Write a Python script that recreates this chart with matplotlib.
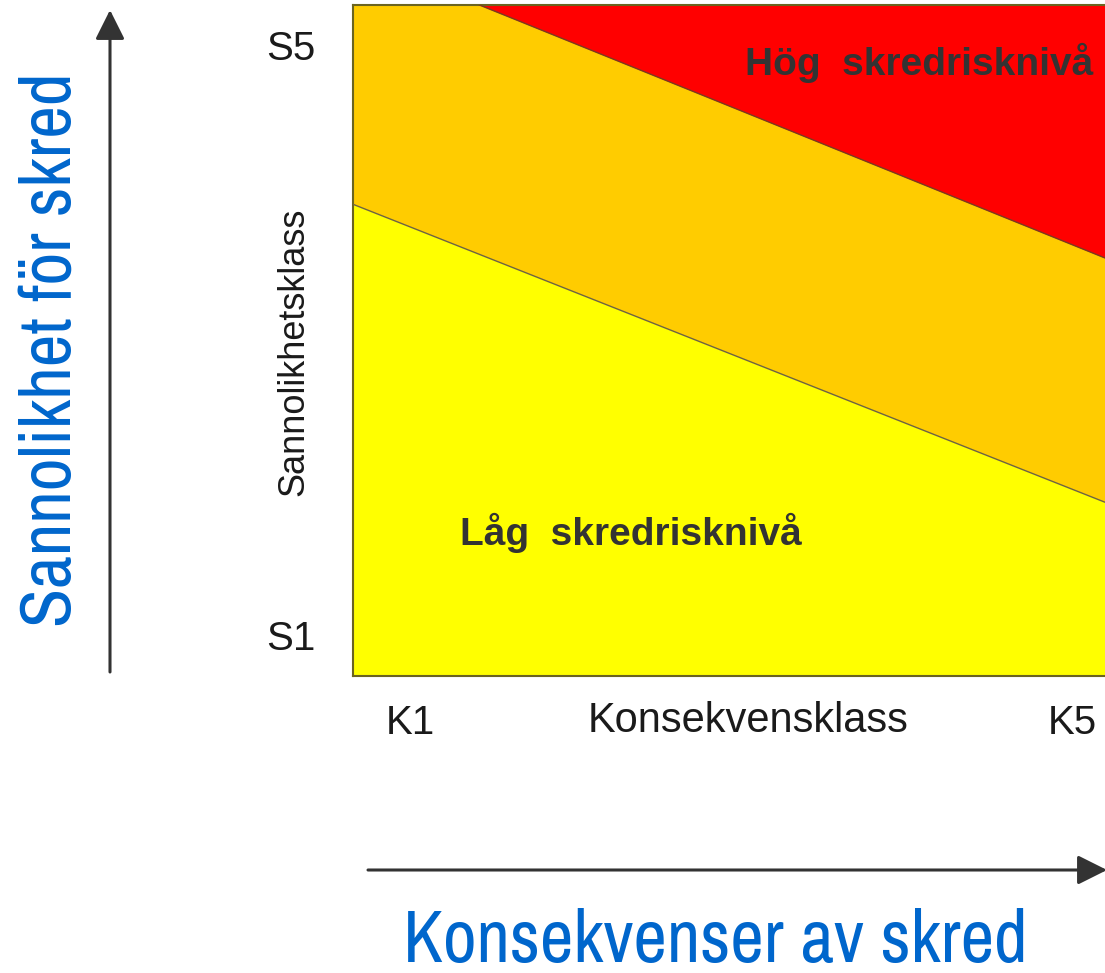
import matplotlib
matplotlib.use("Agg")
import matplotlib.pyplot as plt
import numpy as np
from matplotlib import font_manager
from matplotlib.font_manager import FontProperties
from matplotlib.textpath import TextPath

# ---- data ----
x_ticks = [1, 5]
x_labels = ["K1", "K5"]
y_ticks = [1, 5]
y_labels = ["S1", "S5"]
x_range = [0.656, 5.20]
y_range = [0.722, 5.271]
low_line_x = [0.656, 5.20]       # yellow / orange boundary
low_line_y = [3.92, 1.90]
high_line_x = [1.42, 5.20]       # orange / red boundary
high_line_y = [5.271, 3.556]
region_labels = ["Låg  skredrisknivå", "Hög  skredrisknivå"]
region_pos = [(1.302, 1.61), (3.024, 4.797)]
x_title = "Konsekvensklass"
y_title = "Sannolikhetsklass"
big_x_title = "Konsekvenser av skred"
big_y_title = "Sannolikhet för skred"

# choose a narrow sans font closest to Arial Narrow proportions
names = {f.name for f in font_manager.fontManager.ttflist}
cands = ["Liberation Sans Narrow", "Arial Narrow", "Roboto Condensed", "PT Sans Narrow",
         "Pragati Narrow", "Open Sans Condensed", "IBM Plex Sans Condensed",
         "Fira Sans Condensed", "Archivo Narrow", "Barlow Semi Condensed",
         "Encode Sans Semi Condensed", "Asap Condensed"]
target = 650 / 54.0
best, best_err = None, 1e9
for c in cands:
    if c not in names:
        continue
    try:
        fp = FontProperties(family=c, size=100)
        w = TextPath((0, 0), big_x_title, prop=fp).get_extents().width
        h = TextPath((0, 0), "K", prop=fp).get_extents().height
        err = abs(w / h - target)
        if err < best_err:
            best, best_err = c, err
    except Exception:
        pass
narrow = ([best] if best else []) + ["Liberation Sans", "DejaVu Sans"]
plt.rcParams["font.family"] = ["Liberation Sans", "DejaVu Sans"]

W, H = 1105, 973
fig = plt.figure(figsize=(W / 100, H / 100), dpi=100)
fig.patch.set_facecolor("white")

# overlay in pixel coordinates for arrows & titles
ov = fig.add_axes([0, 0, 1, 1])
ov.set_xlim(0, W)
ov.set_ylim(H, 0)
ov.axis("off")

L, R, T, B = 353, 1105, 5, 676
ax = fig.add_axes([L / W, 1 - B / H, (R - L) / W, (B - T) / H])
ax.set_xlim(*x_range)
ax.set_ylim(*y_range)

xs = np.array(x_range)
low_at = np.interp(xs, low_line_x, low_line_y)
ax.fill_between(xs, y_range[0], low_at, color="#FFFF00", lw=0, zorder=1)
ax.fill_between(xs, low_at, y_range[1], color="#FFCC00", lw=0, zorder=1)
ax.fill_between(high_line_x, high_line_y, y_range[1], color="#FF0000", lw=0, zorder=2)
ax.plot(low_line_x, low_line_y, color="#6e6440", lw=1.0, zorder=3)
ax.plot(high_line_x, high_line_y, color="#7a3a20", lw=1.0, zorder=3)

for s in ["left", "bottom", "top"]:
    ax.spines[s].set_color("#6b6420")
    ax.spines[s].set_linewidth(1.5)
ax.spines["right"].set_visible(False)

ax.set_xticks(x_ticks, x_labels)
ax.set_yticks(y_ticks, y_labels)
ax.tick_params(axis="both", length=0, labelsize=29, colors="#1a1a1a")
ax.tick_params(axis="x", pad=20)
ax.tick_params(axis="y", pad=27)

for (px, py), t in zip(region_pos, region_labels):
    ax.text(px, py, t, fontsize=28, fontweight="bold", color="#333333",
            ha="left", va="baseline", zorder=5)

# small axis titles
ov.text(748, 721, x_title, fontsize=30, color="#1a1a1a", ha="center", va="center")
ov.text(294, 352, y_title, fontsize=26, color="#1a1a1a", ha="center", va="center", rotation=90)

# arrows
ap = dict(arrowstyle="-|>,head_length=1.0,head_width=0.5", lw=2.2, color="#333333",
          mutation_scale=18, shrinkA=0, shrinkB=0)
ov.annotate("", xy=(110, 10), xytext=(110, 672), arrowprops=ap)
ov.annotate("", xy=(1107, 870), xytext=(368, 870), arrowprops=ap, annotation_clip=False)

# big titles (size fitted to the reference text length)
tx = ov.text(715, 962, big_x_title, fontsize=55, color="#0066CC", ha="center",
             va="baseline", family=narrow)
ty = ov.text(71, 350, big_y_title, fontsize=54, color="#0066CC", ha="center",
             va="baseline", rotation=90, rotation_mode="anchor", family=narrow)
fig.canvas.draw()
r = fig.canvas.get_renderer()
wx = tx.get_window_extent(r).width
tx.set_fontsize(55 * 625 / wx)
hy = ty.get_window_extent(r).height
ty.set_fontsize(54 * 555 / hy)

fig.savefig("out.png", dpi=100, facecolor="white")
